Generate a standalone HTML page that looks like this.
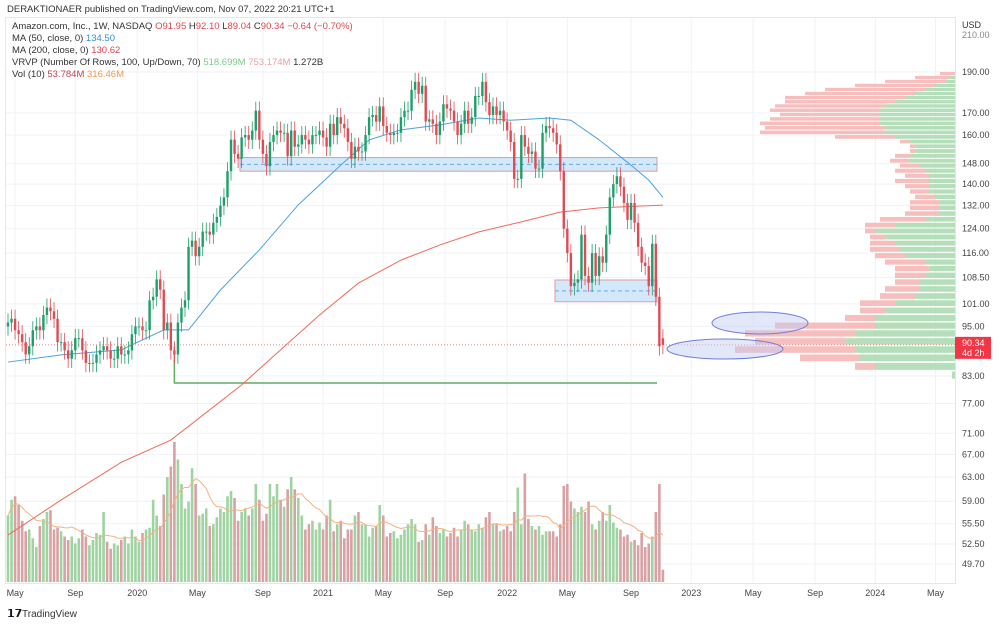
<!DOCTYPE html>
<html><head><meta charset="utf-8"><style>
html,body{margin:0;padding:0;background:#fff;width:1000px;height:624px;overflow:hidden;font-family:"Liberation Sans",sans-serif}
svg text{font-family:"Liberation Sans",sans-serif}
</style></head><body>
<svg id="c" width="1000" height="624" viewBox="0 0 1000 624" xmlns="http://www.w3.org/2000/svg">
<rect x="0" y="0" width="1000" height="624" fill="#fff"/>
<rect x="5.5" y="17.5" width="950" height="566" fill="none" stroke="#e6e6e6"/>
<g id="grid"></g>
<g id="vrvp"></g>
<g id="vol"></g>
<g id="zones"></g>
<g id="mas"></g>
<g id="candles"></g>
<g id="axes"></g>
<text x="7" y="12" font-size="9.5" fill="#333">DERAKTIONAER published on TradingView.com, Nov 07, 2022 20:21 UTC+1</text>
<g font-size="9.5">
<text x="12" y="29" fill="#333">Amazon.com, Inc., 1W, NASDAQ <tspan fill="#e0454d">O91.95</tspan> <tspan fill="#333">H</tspan><tspan fill="#e0454d">92.10</tspan> <tspan fill="#333">L</tspan><tspan fill="#e0454d">89.04</tspan> <tspan fill="#333">C</tspan><tspan fill="#e0454d">90.34 −0.64 (−0.70%)</tspan></text>
<text x="12" y="41" fill="#333">MA (50, close, 0) <tspan fill="#2e8fd6">134.50</tspan></text>
<text x="12" y="53" fill="#333">MA (200, close, 0) <tspan fill="#e0454d">130.62</tspan></text>
<text x="12" y="65" fill="#333">VRVP (Number Of Rows, 100, Up/Down, 70) <tspan fill="#7fc98a">518.699M</tspan> <tspan fill="#f0a0a0">753.174M</tspan> <tspan fill="#333">1.272B</tspan></text>
<text x="12" y="77" fill="#333">Vol (10) <tspan fill="#c0454d">53.784M</tspan> <tspan fill="#f0964a">316.46M</tspan></text>
</g>
<text x="962" y="28" font-size="9" fill="#333">USD</text>
<g><text x="7" y="617" font-size="11" font-weight="bold" fill="#131722">𝟭𝟳</text><text x="22" y="617" font-size="10" fill="#333">TradingView</text></g>
</svg>
<script>
const closes=[96,97,94,93,91,88,90,94,95,94,98,100,99,97,91,91,89,87,89,92,92,89,86,86,86,88,89,90,89,87,87,90,88,88,89,93,95,
95,94,94,102,103,108,105,94,96,89,88,96,100,102,118,120,115,118,123,123,122,126,128,132,135,145,158,152,150,159,160,158,162,171,158,152,147,157,160,162,161,161,151,162,155,156,160,158,156,160,160,162,
159,155,165,160,168,165,163,157,150,155,153,153,160,168,169,166,173,164,161,160,161,161,168,171,171,181,185,179,183,166,167,165,160,166,174,172,171,166,160,165,171,165,168,178,178,185,175,169,173,169,171,166,
162,157,142,142,160,155,152,153,146,146,161,164,163,161,156,145,124,116,106,107,108,122,109,107,116,109,115,113,122,135,140,143,139,133,127,133,126,118,113,112,106,119,103,90,90.34];
const volumes=[380,470,490,440,350,290,300,250,200,320,360,400,410,300,310,290,260,240,260,220,250,300,260,210,240,280,270,400,230,190,220,210,240,260,220,300,260,
230,280,300,310,470,380,320,500,600,660,800,700,560,420,460,650,560,380,390,420,320,330,370,420,400,490,520,480,350,400,420,380,420,560,470,350,390,560,490,560,470,430,530,600,530,480,380,300,330,350,300,340,
300,380,470,290,330,350,250,300,300,380,400,330,330,260,310,320,440,380,260,280,290,250,270,300,330,360,330,230,240,330,270,370,320,280,300,260,280,310,260,300,350,330,300,290,330,310,370,400,330,330,290,300,
320,290,400,540,330,620,360,320,300,320,270,290,290,290,260,330,550,560,460,420,400,430,400,460,330,300,350,400,350,440,340,310,300,260,270,230,240,210,280,200,220,260,400,560,70];
const ma50Idx=[0,15,32,44,51,60,71,82,94,102,111,122,133,142,153,159,167,176,181,185];
const ma50Vals=[86.2,87.9,89.1,94.1,94.1,104.9,117,132.3,147.4,157.9,162.3,164.5,167.6,166.6,167.6,166.6,157.9,147.4,141.5,135.1];
const ma200Idx=[0,15,32,46,54,66,77,88,99,111,122,133,145,156,167,179,185];
const ma200Vals=[53.8,59.2,65.6,69.7,74.0,81.0,89.1,98.0,106.9,113.8,118.6,122.9,126.3,129.7,131.2,131.9,132.2];
const priceTicks=[190,170,160,148,140,132,124,116,108.5,101,95,83,77,71,67,63,59,55.5,52.5,49.7];
const priceTickLabels=["190.00","170.00","160.00","148.00","140.00","132.00","124.00","116.00","108.50","101.00","95.00","83.00","77.00","71.00","67.00","63.00","59.00","55.50","52.50","49.70"];
const timeTickWeeks=[2,19,36.5,53.5,72,89,106,123.5,141,158,176,193,210.5,228,245,262];
const timeTickLabels=["May","Sep","2020","May","Sep","2021","May","Sep","2022","May","Sep","2023","May","Sep","2024","May"];
const profPrices=[189,187,185,183,181,179,177,175,173,171,169,167,165,163,161,159,157,155,153,151,149,147,145,143,141,139,137,135,133,131,129,127,125,123,121,119,117,115,113,111,109,107,105,103,101,99,97,95,93,91,89,87,85,83];
const profUp=[0,5,10,20,30,40,50,60,70,75,75,75,75,70,70,60,45,40,40,45,45,35,30,25,25,25,25,20,15,15,15,30,60,80,70,60,55,50,30,25,30,35,35,40,60,70,80,80,100,110,100,95,80,3];
const profDown=[15,35,60,80,100,110,120,110,110,110,100,110,120,120,125,60,10,5,5,15,20,20,30,25,35,25,20,20,30,30,35,45,30,10,15,25,30,30,40,35,30,25,35,35,35,25,30,100,110,90,120,60,20,0];
const lastPrice=90.34;

const NS="http://www.w3.org/2000/svg";
function mk(tag,attrs,parent){const e=document.createElementNS(NS,tag);for(const k in attrs)e.setAttribute(k,attrs[k]);parent.appendChild(e);return e;}
const yP=p=>72+(Math.log(190)-Math.log(p))*367;
const xW=i=>8+i*3.54;
const volBase=582, volScale=140/800;
const G=id=>document.getElementById(id);

// grid
timeTickWeeks.forEach((w,i)=>{const l=mk('line',{x1:xW(w),x2:xW(w),y1:18,y2:583,stroke:'#f0f2f5'},G('grid'));


const t=mk('text',{x:xW(w),y:596,'font-size':9,fill:'#444','text-anchor':'middle'},G('axes'));t.textContent=timeTickLabels[i];

});
priceTicks.forEach((p,i)=>{const l=mk('line',{x1:6,x2:955,y1:yP(p),y2:yP(p),stroke:'#f0f2f5'},G('grid'));


const t=mk('text',{x:962,y:yP(p)+3,'font-size':9,fill:'#444'},G('axes'));t.textContent=priceTickLabels[i];

});
const t210=mk('text',{x:962,y:38,'font-size':9,fill:'#888'},G('axes'));t210.textContent="210.00";



// volume profile
profPrices.forEach((p,i)=>{const y1=yP(p+1),y2=yP(p-1);const h=Math.max(1,(y2-y1)*0.8);
const up=mk('rect',{x:955-profUp[i],y:y1,width:profUp[i],height:h,fill:'#a8d8ae',opacity:0.85},G('vrvp'));


const dn=mk('rect',{x:955-profUp[i]-profDown[i],y:y1,width:profDown[i],height:h,fill:'#f6b3b3',opacity:0.85},G('vrvp'));

});

// volume
const opens=closes.map((c,i)=>i===closes.length-1?91.95:(i===0?95:closes[i-1]));
volumes.forEach((v,i)=>{const up=closes[i]>=opens[i];const h=v*volScale;
const r=mk('rect',{x:xW(i)-1.3,y:volBase-h,width:2.6,height:h,fill:up?'#9fd3a2':'#d8a1a4'},G('vol'));

});
let pts=[];volumes.forEach((v,i)=>{const s=volumes.slice(Math.max(0,i-9),i+1);const m=s.reduce((a,b)=>a+b,0)/s.length;pts.push(xW(i)+','+(volBase-m*volScale));});
const vma=mk('polyline',{points:pts.join(' '),fill:'none',stroke:'#f5b27f','stroke-width':1},G('vol'));



// drawings
function zone(x1,x2,pTop,pBot,name){const y1=yP(pTop),y2=yP(pBot);
const r=mk('rect',{x:x1,y:y1,width:x2-x1,height:y2-y1,fill:'#d4e8fb',stroke:'#e09aa6','stroke-width':1},G('zones'));


const d=mk('line',{x1:x1,x2:x2,y1:(y1+y2)/2,y2:(y1+y2)/2,stroke:'#6aa8e0','stroke-dasharray':'4,3'},G('zones'));

}
zone(240,657,150.5,145,'resistance-zone-148');
zone(555,657,107.8,101.6,'support-zone-104');
const gl=mk('polyline',{points:`${xW(47)},${yP(90)} ${xW(47)},383 657,383`,fill:'none',stroke:'#5fae5f','stroke-width':1.5},G('zones'));


const pl=mk('line',{x1:6,x2:955,y1:yP(lastPrice),y2:yP(lastPrice),stroke:'#f08080','stroke-dasharray':'1,2'},G('zones'));


const e1=mk('ellipse',{cx:760,cy:323,rx:48,ry:11,fill:'rgba(190,205,245,0.45)',stroke:'#6f7fd8'},G('zones'));


const e2=mk('ellipse',{cx:725,cy:349,rx:58,ry:10,fill:'rgba(190,205,245,0.45)',stroke:'#6f7fd8'},G('zones'));



// moving averages
const m50=mk('polyline',{points:ma50Idx.map((k,i)=>xW(k)+','+yP(ma50Vals[i])).join(' '),fill:'none',stroke:'#4aa3df','stroke-width':1},G('mas'));


const m200=mk('polyline',{points:ma200Idx.map((k,i)=>xW(k)+','+yP(ma200Vals[i])).join(' '),fill:'none',stroke:'#ef6b5b','stroke-width':1},G('mas'));



// candles
closes.forEach((c,i)=>{const o=opens[i];const up=c>=o;const col=up?'#26a69a':'#ef5350';const colc=up?'#1e9e6a':'#e04a55';
const hi=Math.max(o,c)*1.025, lo=Math.min(o,c)*0.975;const x=xW(i);
const w=mk('line',{x1:x,x2:x,y1:yP(hi),y2:yP(lo),stroke:colc,'stroke-width':0.8},G('candles'));


const yt=yP(Math.max(o,c)),yb=yP(Math.min(o,c));
const b=mk('rect',{x:x-1.2,y:yt,width:2.4,height:Math.max(1,yb-yt),fill:colc},G('candles'));

});

// last price label
const lb=mk('rect',{x:955,y:yP(lastPrice)-8,width:36,height:22,fill:'#f23645'},G('axes'));


const lt=mk('text',{x:962,y:yP(lastPrice)+1,'font-size':9,fill:'#fff'},G('axes'));lt.textContent=lastPrice.toFixed(2);


const lt2=mk('text',{x:962,y:yP(lastPrice)+11,'font-size':9,fill:'#fff'},G('axes'));lt2.textContent="4d 2h";


</script>
</body></html>
